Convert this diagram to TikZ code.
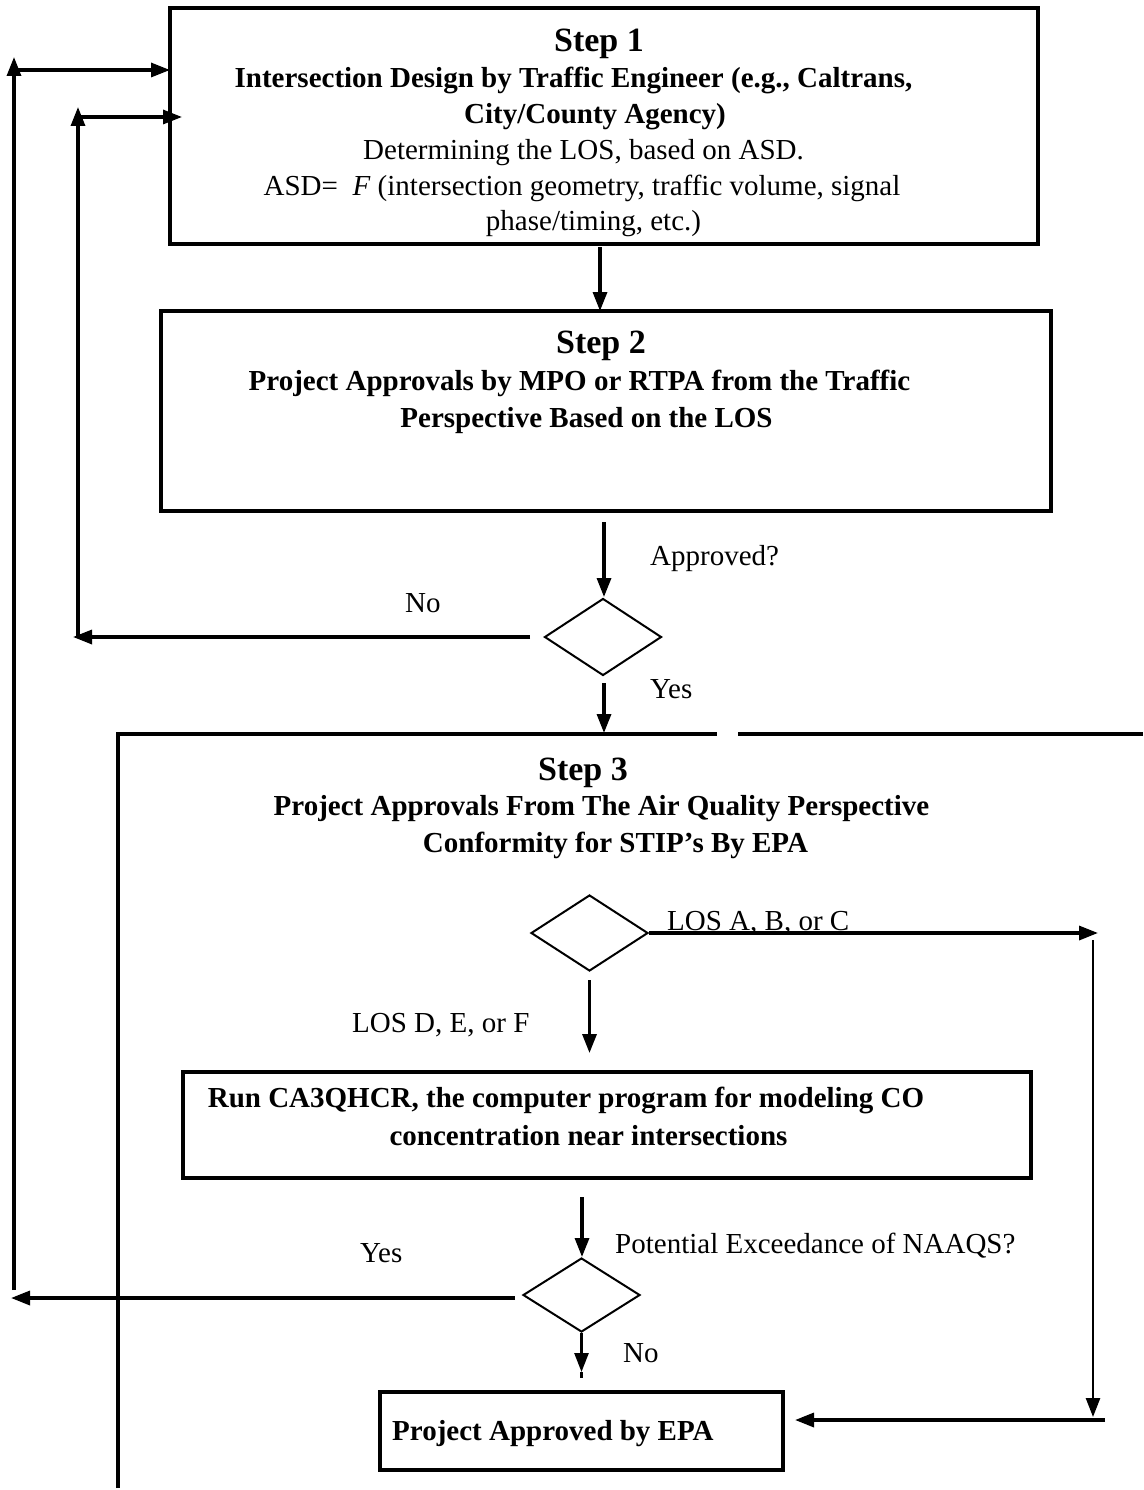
\documentclass[tikz,border=0pt]{standalone}
\usepackage{fontspec}
\setmainfont{Liberation Serif}
\usetikzlibrary{arrows.meta,shapes.geometric}
\begin{document}
\begin{tikzpicture}[x=1pt,y=-1pt,
  boxthick/.style={draw,line width=4pt,rectangle,inner sep=0pt},
  boxmid/.style={draw,line width=3.3pt,rectangle,inner sep=0pt},
  decision/.style={draw,line width=2pt,diamond,inner sep=0pt,minimum width=117pt,minimum height=76pt},
  arr/.style={line width=3.3pt,-{Triangle[length=19pt,width=14pt]}},
  thinarr/.style={line width=2.6pt,-{Triangle[length=19pt,width=14pt]}},
  frame/.style={line width=3.6pt},
  steptxt/.style={font=\fontsize{34}{40}\selectfont\bfseries,anchor=base,inner sep=0pt},
  boldtxt/.style={font=\fontsize{29}{35}\selectfont\bfseries,anchor=base,inner sep=0pt},
  regtxt/.style={font=\fontsize{29}{35}\selectfont,anchor=base,inner sep=0pt},
  lbl/.style={font=\fontsize{29}{35}\selectfont,anchor=base west,inner sep=0pt}]
\useasboundingbox (0,0) rectangle (1143,1490);

% ---------- boxes ----------
\node[boxthick,minimum width=868pt,minimum height=236pt] (s1) at (604,126) {};
\node[boxthick,minimum width=890pt,minimum height=200pt] (s2) at (606,411) {};
\node[boxthick,minimum width=848pt,minimum height=106pt] (ca3) at (607,1125) {};
\node[boxmid,minimum width=403pt,minimum height=78pt] (epa) at (581.5,1431) {};

% ---------- decisions ----------
\node[decision,minimum height=77pt] (d1) at (603,637) {};
\node[decision] (d2) at (589.5,933) {};
\node[decision,minimum height=74pt] (d3) at (581.5,1295) {};

% ---------- texts step 1 ----------
\node[steptxt] (s1h) at (599,52) {Step 1};
\node[boldtxt] (s1a) at (573.5,88) {Intersection Design by Traffic Engineer (e.g., Caltrans,};
\node[boldtxt] (s1b) at (595,124) {City/County Agency)};
\node[regtxt] (s1c) at (583.5,160) {Determining the LOS, based on ASD.};
\node[regtxt] (s1d) at (582,196) {ASD=\ \ \textit{F} (intersection geometry, traffic volume, signal};
\node[regtxt] (s1e) at (593.5,230) {phase/timing, etc.)};

% ---------- texts step 2 ----------
\node[steptxt] (s2h) at (601,353) {Step 2};
\node[boldtxt] (s2a) at (579.5,390) {Project Approvals by MPO or RTPA from the Traffic};
\node[boldtxt] (s2b) at (586.5,427) {Perspective Based on the LOS};

% ---------- texts step 3 ----------
\node[steptxt] (s3h) at (583,780) {Step 3};
\node[boldtxt] (s3a) at (601.5,815) {Project Approvals From The Air Quality Perspective};
\node[boldtxt] (s3b) at (615.5,852) {Conformity for STIP’s By EPA};

\node[boldtxt] (ca3a) at (566,1107) {Run CA3QHCR, the computer program for modeling CO};
\node[boldtxt] (ca3b) at (588.5,1145) {concentration near intersections};
\node[boldtxt,anchor=base west] (epat) at (392,1440) {Project Approved by EPA};

% ---------- labels ----------
\node[lbl] (lapp) at (650,565) {Approved?};
\node[lbl] (lno1) at (405,612) {No};
\node[lbl] (lyes1) at (650,698) {Yes};
\node[lbl] (labc) at (667,930) {LOS A, B, or C};
\node[lbl] (ldef) at (352,1032) {LOS D, E, or F};
\node[lbl] (lpot) at (615,1253) {Potential Exceedance of NAAQS?};
\node[lbl] (lyes2) at (360,1262) {Yes};
\node[lbl] (lno2) at (623,1362) {No};

% ---------- step 3 frame ----------
\coordinate (f0) at (118,1488);
\coordinate (f1) at (118,734);
\coordinate (f2) at (717,734);
\coordinate (f3) at (738,734);
\coordinate (f4) at (1143,734);
\draw[frame] (f0) -- (f1) -- (f2);
\draw[frame] (f3) -- (f4);

% ---------- coordinates for free ends ----------
\coordinate (a1s) at (600,247);
\coordinate (a1e) at (600,311);
\coordinate (a2s) at (604,522);
\coordinate (a2e) at (604,597);
\coordinate (nos) at (530,637);
\coordinate (noe) at (73,637);
\coordinate (inb) at (78,637);
\coordinate (int) at (78,107);
\coordinate (inh) at (78,117);
\coordinate (inhe) at (182,117);
\coordinate (y1s) at (604,683);
\coordinate (y1e) at (604,733);
\coordinate (abce) at (1098,933);
\coordinate (rvs) at (1093,940);
\coordinate (rve) at (1093,1417);
\coordinate (rhs) at (1105,1420);
\coordinate (rhe) at (795,1420);
\coordinate (defs) at (589.5,980);
\coordinate (defe) at (589.5,1053);
\coordinate (cas) at (582,1197);
\coordinate (cae) at (582,1257);
\coordinate (y2s) at (515,1298);
\coordinate (y2e) at (11,1298);
\coordinate (outb) at (14,1290);
\coordinate (outt) at (14,57);
\coordinate (outh) at (14,70);
\coordinate (outhe) at (170,70);
\coordinate (no2e) at (581.5,1372);
\coordinate (no2x) at (581.5,1378);

% ---------- connectors ----------
\draw[arr] (a1s) -- (a1e);
\draw[arr] (a2s) -- (a2e);
\draw[arr] (nos) -- (noe);
\draw[arr] (inb) -- (int);
\draw[arr] (inh) -- (inhe);
\draw[arr] (y1s) -- (y1e);
\draw[arr] (d2.east) -- (abce);
\draw[thinarr] (rvs) -- (rve);
\draw[arr] (rhs) -- (rhe);
\draw[arr] (defs) -- (defe);
\draw[arr] (cas) -- (cae);
\draw[arr] (y2s) -- (y2e);
\draw[arr] (outb) -- (outt);
\draw[arr] (outh) -- (outhe);
\draw[thinarr] (d3.south) -- (no2e);
\draw[line width=2.6pt] (no2e) -- (no2x);
\end{tikzpicture}
\end{document}
